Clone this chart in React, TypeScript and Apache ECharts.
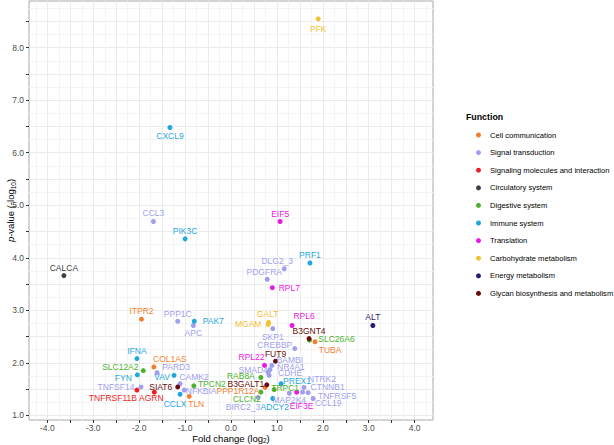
import React, { useEffect, useRef } from "react";
import * as echarts from "echarts";

const functions = [
  "Cell communication",
  "Signal transduction",
  "Signaling molecules and interaction",
  "Circulatory system",
  "Digestive system",
  "Immune system",
  "Translation",
  "Carbohydrate metabolism",
  "Energy metabolism",
  "Glycan biosynthesis and metabolism",
];
const functionColors = [
  "#F27F30", "#9F9FEF", "#EE1D23", "#404040", "#4CB22D",
  "#1FA8E0", "#EC17E3", "#F2C230", "#2C1A72", "#650B0B",
];

const genes = [
  "PFK", "CXCL9", "CCL3", "PIK3C", "EIF5", "CALCA", "PRF1", "DLG2_3", "PDGFRA", "RPL7",
  "ITPR2", "PPP1C", "PAK7", "APC", "GALT", "MGAM", "SKP1", "RPL6", "ALT", "B3GNT4",
  "SLC26A6", "TUBA", "CREBBP", "RPL22", "FUT9", "BAMBI", "NR4A1", "SMAD4", "CDHE", "RAB8A",
  "B3GALT1", "PPP1R12A", "CLCN2", "TRPC1", "PREX1", "ADCY2", "BIRC2_3", "MAP2K4", "EIF3E", "NTRK2",
  "CTNNB1", "TNFRSF5", "CCL19", "IFNA", "COL1AS", "SLC12A2", "PARD3", "FYN", "VAV", "CAMK2",
  "TNFSF14", "TNFRSF11B", "AGRN", "SIAT6", "NFKBIA", "CCLX", "TLN", "TPCN2",
];
const foldChange = [
  1.90, -1.33, -1.69, -1.00, 1.07, -3.64, 1.72, 1.16, 0.79, 0.90,
  -1.95, -1.16, -0.80, -0.82, 0.82, 0.81, 0.91, 1.33, 3.09, 1.70,
  1.71, 1.83, 1.39, 0.73, 0.97, 0.89, 0.85, 0.81, 0.83, 0.65,
  0.78, 0.74, 0.65, 0.94, 1.09, 0.91, 0.59, 1.27, 1.43, 1.59,
  1.56, 1.68, 1.79, -2.05, -1.68, -1.91, -1.61, -2.04, -1.24, -1.11,
  -1.96, -2.05, -1.67, -1.16, -1.02, -1.11, -0.91, -0.81,
];
const pValue = [
  8.55, 6.48, 4.69, 4.36, 4.69, 3.66, 3.90, 3.79, 3.59, 3.43,
  2.83, 2.79, 2.79, 2.71, 2.77, 2.73, 2.65, 2.71, 2.71, 2.46,
  2.43, 2.40, 2.27, 1.95, 2.03, 1.95, 1.87, 1.82, 1.76, 1.72,
  1.58, 1.53, 1.44, 1.49, 1.60, 1.32, 1.34, 1.42, 1.44, 1.53,
  1.44, 1.43, 1.32, 2.08, 1.92, 1.85, 1.81, 1.77, 1.76, 1.60,
  1.54, 1.48, 1.44, 1.54, 1.48, 1.40, 1.36, 1.56,
];
const functionIndex = [
  7, 5, 1, 5, 6, 3, 5, 1, 1, 6,
  0, 1, 5, 1, 7, 7, 1, 6, 8, 9,
  4, 0, 1, 6, 9, 1, 1, 1, 1, 4,
  9, 0, 4, 4, 5, 5, 1, 1, 6, 1,
  1, 1, 1, 5, 0, 4, 1, 5, 5, 1,
  1, 2, 2, 9, 1, 5, 0, 4,
];

const xTickValues = [-4, -3.5, -3, -2.5, -2, -1.5, -1, -0.5, 0, 0.5, 1, 1.5, 2, 2.5, 3, 3.5, 4];
const xLabelValues = [-4, -3, -2, -1, 0, 1, 2, 3, 4];
const xMinorValues = [-4.25, -3.75, -3.25, -2.75, -2.25, -1.75, -1.25, -0.75, -0.25, 0.25, 0.75, 1.25, 1.75, 2.25, 2.75, 3.25, 3.75, 4.25];
const yTickValues = [1, 1.5, 2, 2.5, 3, 3.5, 4, 4.5, 5, 5.5, 6, 6.5, 7, 7.5, 8, 8.5];
const yLabelValues = [1, 2, 3, 4, 5, 6, 7, 8];
const yMinorValues = [1.25, 1.75, 2.25, 2.75, 3.25, 3.75, 4.25, 4.75, 5.25, 5.75, 6.25, 6.75, 7.25, 7.75, 8.25, 8.75];

// label placement (pixel offsets of label centre from its point), like ggrepel output
const labelNudge: Record<string, [number, number]> = {
  PFK: [0, 10], CXCL9: [0, 8], CCL3: [0, -8.5], PIK3C: [0, -8], EIF5: [0, -8],
  CALCA: [0, -8], PRF1: [0, -8], DLG2_3: [-7, -8], PDGFRA: [-3, -7], RPL7: [17, 0],
  ITPR2: [0, -8], PPP1C: [0, -7], PAK7: [19, 0], APC: [0, 8], GALT: [-1, -8],
  MGAM: [-20, 0], SKP1: [0, 8], RPL6: [12, -9], ALT: [0, -8], B3GNT4: [0, -8],
  SLC26A6: [27, -1], TUBA: [15, 8], CREBBP: [-20, -4], RPL22: [-13, -8], FUT9: [0, -7.5],
  BAMBI: [18, -5], NR4A1: [21, -3], SMAD4: [-15, -2.5], CDHE: [21, -2], RAB8A: [-20, -1],
  B3GALT1: [-21, -1], PPP1R12A: [-27, 4], CLCN2: [-14, 7], TRPC1: [11, -2], PREX1: [16, -3],
  ADCY2: [2, 9], BIRC2_3: [-15, 10], MAP2K4: [0, 7], EIF3E: [5, 14], NTRK2: [18, -8],
  CTNNB1: [25, -5], TNFRSF5: [29, 3], CCL19: [15, 5], IFNA: [0, -8], COL1AS: [16, -8],
  SLC12A2: [-23, -4], PARD3: [19, -6], FYN: [-14, 3], VAV: [-12, 2], CAMK2: [14, -7],
  TNFSF14: [-25, 0], TNFRSF11B: [-24, 8], AGRN: [-3, 6], SIAT6: [-17, 0], NFKBIA: [17, 1],
  CCLX: [-5, 10], TLN: [7, 8], TPCN2: [18, -2],
};

const FONT = "'Liberation Sans', Arial, Helvetica, sans-serif";

export default function App() {
  const ref = useRef<HTMLDivElement>(null);
  useEffect(() => {
    if (!ref.current) return;
    const chart = echarts.init(ref.current, undefined, { renderer: "svg" });

    const series = functions.map((f, fi) => ({
      name: f,
      type: "scatter",
      xAxisIndex: 0,
      yAxisIndex: 0,
      symbol: "circle",
      symbolSize: 5,
      itemStyle: { color: functionColors[fi], opacity: 1 },
      emphasis: { disabled: true },
      data: genes
        .map((g, i) => ({ g, i }))
        .filter((o) => functionIndex[o.i] === fi)
        .map(({ g, i }) => ({
          name: g,
          value: [foldChange[i], pValue[i]],
          label: {
            show: true,
            position: "inside",
            offset: labelNudge[g] ?? [0, -8],
            formatter: g,
            color: functionColors[fi],
            fontSize: 8.5,
            fontFamily: FONT,
            textBorderWidth: 0,
          },
        })),
    }));

    const tickStyle = { show: true, length: 3, lineStyle: { color: "#333333", width: 1 } };
    const hiddenLine = { show: false, onZero: false };
    const majorGrid = { show: true, lineStyle: { color: "#EBEBEB", width: 1 } };
    const minorGrid = { show: true, lineStyle: { color: "#F4F4F4", width: 1 } };

    chart.setOption({
      animation: false,
      textStyle: { fontFamily: FONT },
      grid: {
        left: 29, right: 181, top: 1, bottom: 25,
        show: true, borderColor: "#A8A8A8", borderWidth: 1, backgroundColor: "#ffffff",
        outerBoundsMode: "none",
      },
      title: {
        text: "Function",
        left: 466, top: 112, padding: 0,
        textStyle: { fontSize: 8.8, fontWeight: "bold", color: "#000", fontFamily: FONT },
      },
      legend: {
        orient: "vertical",
        left: 476, top: 129, padding: 0,
        icon: "circle",
        itemWidth: 5, itemHeight: 5,
        itemGap: 5.6,
        data: functions,
        textStyle: { fontSize: 7.6, color: "#000", lineHeight: 12, padding: [0, 0, 0, 4], fontFamily: FONT },
        selectedMode: false,
      },
      xAxis: [
        {
          type: "value", min: -4.4, max: 4.4,
          axisLine: hiddenLine,
          axisTick: { ...tickStyle, customValues: xTickValues },
          splitLine: majorGrid,
          axisLabel: {
            customValues: xLabelValues, color: "#4D4D4D", fontSize: 8.5, margin: 3,
            formatter: (v: number) => v.toFixed(1),
          },
          name: "Fold change (log{s|2})",
          nameLocation: "middle",
          nameGap: 13,
          nameMoveOverlap: false,
          nameTextStyle: {
            fontSize: 9.5, color: "#000", lineHeight: 11, verticalAlign: "top",
            rich: { s: { fontSize: 6.5, lineHeight: 6.5, verticalAlign: "bottom" } },
          },
        },
        {
          type: "value", min: -4.4, max: 4.4, position: "bottom",
          axisLine: hiddenLine,
          axisTick: { show: false, customValues: xMinorValues },
          axisLabel: { show: false },
          splitLine: minorGrid,
        },
      ],
      yAxis: [
        {
          type: "value", min: 0.91, max: 8.89,
          axisLine: hiddenLine,
          axisTick: { ...tickStyle, customValues: yTickValues },
          splitLine: majorGrid,
          axisLabel: {
            customValues: yLabelValues, color: "#4D4D4D", fontSize: 8.5, margin: 5,
            formatter: (v: number) => v.toFixed(1),
          },
          name: "{i|p}-value (-log{s|10})",
          nameLocation: "middle",
          nameGap: 12,
          nameMoveOverlap: false,
          nameTextStyle: {
            fontSize: 9.5, color: "#000", lineHeight: 13,
            rich: {
              i: { fontSize: 9.5, fontStyle: "italic", lineHeight: 13 },
              s: { fontSize: 6.5, lineHeight: 6.5, verticalAlign: "bottom" },
            },
          },
        },
        {
          type: "value", min: 0.91, max: 8.89, position: "left",
          axisLine: hiddenLine,
          axisTick: { show: false, customValues: yMinorValues },
          axisLabel: { show: false },
          splitLine: minorGrid,
        },
      ],
      series,
    });
    return () => chart.dispose();
  }, []);
  return (
    <div
      ref={ref}
      style={{ position: "absolute", left: 0, top: 0, width: 614, height: 445, background: "#fff" }}
    />
  );
}
